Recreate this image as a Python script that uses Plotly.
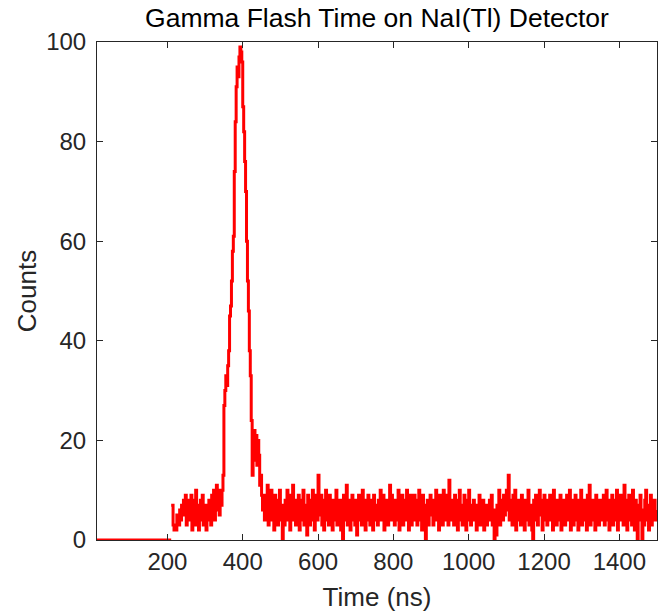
import numpy as np
import plotly.graph_objects as go

# Pre-trigger segment (no counts before ~210 ns)
pre_trigger_times = [12.5, 210]
pre_trigger_counts = [0, 0]

# Bin start times (ns), 2.5 ns bins from 210 ns
time_ns = np.arange(210, 1500, 2.5)

pre_peak = [7, 7, 3, 2, 3, 2, 5, 4, 3, 6,
            4, 7, 5, 8, 6, 9, 3, 7, 4, 8,
            5, 9, 2, 6, 8, 3, 10, 5, 7, 2,
            6, 8, 4, 9, 3, 5, 7, 2, 6, 4,
            8, 5, 3, 9, 6, 10, 4, 8, 11, 6,
            9, 5, 10, 7]
peak = [10, 13, 27, 30, 33, 31, 35, 38, 45, 47,
        52, 58, 61, 74, 84, 91, 95, 93, 97, 99,
        98, 96, 87, 82, 76, 70, 60, 52, 46, 38,
        33, 24, 13, 16, 22, 18, 21, 15, 20, 17,
        11, 13, 9, 6]
tail = [7, 4, 9, 5, 11, 3, 8, 6, 10, 4, 7, 2, 9, 5, 8, 3, 6, 10, 4, 7,
        0, 6, 3, 8, 5, 10, 4, 7, 2, 9, 6, 11, 4, 8, 3, 7, 5, 9, 2, 6,
        8, 4, 10, 3, 7, 5, 1, 9, 6, 3, 8, 4, 10, 5, 2, 7, 9, 4, 13, 6,
        5, 9, 3, 7, 2, 8, 10, 4, 6, 3, 9, 5, 7, 2, 8, 6, 4, 10, 3, 7,
        5, 8, 2, 6, 0, 9, 4, 7, 11, 3, 6, 8, 2, 5, 9, 4, 7, 3, 8, 1,
        6, 9, 4, 7, 3, 10, 5, 8, 2, 6, 4, 9, 7, 3, 8, 5, 2, 9, 6, 4,
        7, 3, 8, 5, 10, 4, 6, 9, 2, 7, 5, 8, 3, 6, 11, 4, 9, 5, 7, 3,
        8, 4, 6, 10, 2, 7, 5, 9, 3, 6, 8, 4, 10, 5, 2, 7, 9, 3, 6, 4,
        9, 5, 7, 3, 8, 10, 4, 6, 2, 9, 5, 7, 0, 4, 8, 3, 6, 9, 5, 7,
        3, 8, 6, 10, 4, 7, 2, 9, 5, 8, 3, 10, 6, 4, 7, 9, 3, 12, 6, 8,
        4, 7, 3, 9, 5, 6, 2, 8, 10, 4, 7, 3, 6, 9, 5, 2, 8, 4, 10, 6,
        3, 7, 5, 8, 4, 6, 2, 7, 5, 9, 3, 6, 4, 8, 2, 5, 7, 3, 6, 4,
        8, 5, 9, 3, 6, 0, 4, 1, 7, 5, 10, 3, 8, 6, 4, 9, 5, 7, 10, 6,
        13, 4, 8, 6, 3, 9, 5, 10, 2, 7, 4, 8, 6, 3, 9, 5, 7, 2, 8, 4,
        6, 10, 3, 7, 5, 2, 0, 8, 4, 9, 6, 3, 7, 10, 5, 8, 2, 6, 9, 4,
        7, 3, 8, 5, 9, 4, 6, 2, 10, 5, 7, 3, 8, 6, 4, 9, 2, 7, 5, 8,
        3, 6, 9, 4, 7, 10, 2, 5, 8, 3, 6, 9, 4, 7, 2, 8, 5, 10, 3, 6,
        8, 4, 7, 2, 9, 5, 11, 3, 6, 8, 4, 7, 2, 9, 5, 6, 3, 8, 4, 7,
        5, 9, 3, 6, 10, 4, 8, 2, 7, 5, 9, 3, 6, 4, 8, 10, 2, 7, 5, 9,
        4, 7, 3, 11, 6, 8, 2, 5, 9, 4, 7, 3, 10, 6, 2, 8, 5, 0, 7, 4,
        9, 5, 0, 6, 3, 8, 10, 4, 7, 2, 6, 9, 3, 7, 5, 8, 4, 6]
counts = pre_peak + peak + tail

x_ticks = [200, 400, 600, 800, 1000, 1200, 1400]
y_ticks = [0, 20, 40, 60, 80, 100]

FONT = "Liberation Sans, Arial, sans-serif"
INK = "#262626"
RED = "#ff0000"

fig = go.Figure()
fig.add_trace(go.Scatter(x=pre_trigger_times, y=pre_trigger_counts, mode="lines",
                         line=dict(color=RED, width=3),
                         showlegend=False, hoverinfo="skip"))
fig.add_trace(go.Scatter(x=time_ns, y=counts, mode="lines",
                         line=dict(color=RED, width=3, shape="hv"),
                         showlegend=False, hoverinfo="skip"))

axis_common = dict(showline=True, linecolor=INK, linewidth=1, mirror="ticks",
                   ticks="inside", ticklen=6, tickwidth=1, tickcolor=INK,
                   showgrid=False, zeroline=False,
                   tickfont=dict(family=FONT, size=24, color=INK))

fig.update_layout(
    width=666, height=616,
    margin=dict(l=97, r=9, t=42, b=76),
    paper_bgcolor="white", plot_bgcolor="white",
    title=dict(text="Gamma Flash Time on NaI(Tl) Detector",
               font=dict(family=FONT, size=26.5, color="#000000"),
               x=0.5, xref="paper", xanchor="center",
               y=1 - 18 / 616, yref="container", yanchor="middle"),
    xaxis=dict(range=[13, 1500], tickvals=x_ticks,
               title=dict(text="Time (ns)", font=dict(family=FONT, size=26, color=INK), standoff=14),
               **axis_common),
    yaxis=dict(range=[0, 100], tickvals=y_ticks, ticklabelstandoff=5,
               title=dict(text="Counts", font=dict(family=FONT, size=26, color=INK), standoff=2),
               **axis_common),
)

fig.write_html("out.html")
